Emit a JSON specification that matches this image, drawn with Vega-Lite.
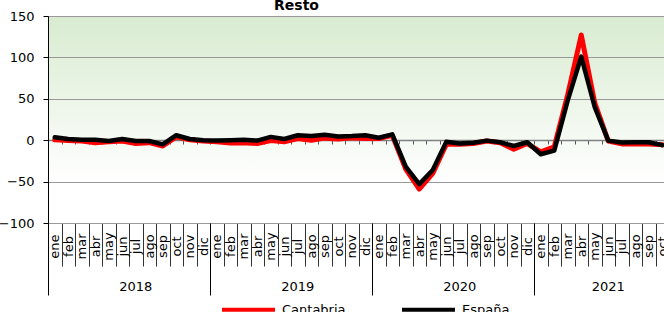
{
  "$schema": "https://vega.github.io/schema/vega-lite/v6.json",
  "width": 621,
  "height": 207,
  "autosize": {"type": "none"},
  "padding": {"left": 48, "top": 16, "right": 0, "bottom": 89},
  "background": "white",
  "config": {"font": "DejaVu Sans"},
  "view": {"stroke": null, "fill": {"gradient": "linear", "x1": 0, "y1": 0, "x2": 0, "y2": 1, "stops": [{"offset": 0, "color": "#d8ebd0"}, {"offset": 0.8, "color": "#ffffff"}, {"offset": 1, "color": "#ffffff"}]}},
  "title": {"text": "Resto", "fontSize": 14, "fontWeight": "bold", "anchor": "middle", "dx": -62, "offset": -3, "color": "#000000"},
  "data": {"values": [
    {"m": "ene 2018", "c": 0.5, "e": 3.6},
    {"m": "feb 2018", "c": -0.5, "e": 1.5},
    {"m": "mar 2018", "c": -1, "e": 0.5},
    {"m": "abr 2018", "c": -3, "e": 0.5},
    {"m": "may 2018", "c": -2, "e": -1},
    {"m": "jun 2018", "c": -1, "e": 1.5},
    {"m": "jul 2018", "c": -4, "e": -1},
    {"m": "ago 2018", "c": -3, "e": -1},
    {"m": "sep 2018", "c": -7, "e": -5},
    {"m": "oct 2018", "c": 4, "e": 6},
    {"m": "nov 2018", "c": 0.5, "e": 1.5},
    {"m": "dic 2018", "c": -1, "e": 0},
    {"m": "ene 2019", "c": -2, "e": -0.5},
    {"m": "feb 2019", "c": -3.5, "e": 0},
    {"m": "mar 2019", "c": -3, "e": 0.5},
    {"m": "abr 2019", "c": -4, "e": -0.5},
    {"m": "may 2019", "c": -0.5, "e": 4},
    {"m": "jun 2019", "c": -2, "e": 1.5},
    {"m": "jul 2019", "c": 2, "e": 6},
    {"m": "ago 2019", "c": 0, "e": 5},
    {"m": "sep 2019", "c": 2.5, "e": 6.5},
    {"m": "oct 2019", "c": 1.5, "e": 4.5},
    {"m": "nov 2019", "c": 3, "e": 5},
    {"m": "dic 2019", "c": 2, "e": 6},
    {"m": "ene 2020", "c": 2, "e": 3},
    {"m": "feb 2020", "c": 6, "e": 7},
    {"m": "mar 2020", "c": -35, "e": -32},
    {"m": "abr 2020", "c": -59, "e": -53},
    {"m": "may 2020", "c": -40, "e": -36},
    {"m": "jun 2020", "c": -5, "e": -2},
    {"m": "jul 2020", "c": -5, "e": -4},
    {"m": "ago 2020", "c": -4, "e": -3},
    {"m": "sep 2020", "c": -1, "e": -0.5},
    {"m": "oct 2020", "c": -3, "e": -2.5},
    {"m": "nov 2020", "c": -11, "e": -7},
    {"m": "dic 2020", "c": -4, "e": -2.5},
    {"m": "ene 2021", "c": -14, "e": -17},
    {"m": "feb 2021", "c": -8, "e": -12.5},
    {"m": "mar 2021", "c": 55, "e": 48},
    {"m": "abr 2021", "c": 127, "e": 101},
    {"m": "may 2021", "c": 45, "e": 40},
    {"m": "jun 2021", "c": -1, "e": -0.5},
    {"m": "jul 2021", "c": -4.5, "e": -2.9},
    {"m": "ago 2021", "c": -4.5, "e": -2.5},
    {"m": "sep 2021", "c": -4.5, "e": -2.5},
    {"m": "oct 2021", "c": -5.5, "e": -6}
  ]},
  "layer": [
    {
      "mark": {"type": "line", "strokeWidth": 5, "strokeJoin": "round", "strokeCap": "round"},
      "encoding": {
        "x": {"field": "m", "type": "ordinal", "sort": null, "scale": {"type": "band", "paddingInner": 0, "paddingOuter": 0},
          "axis": {"orient": "bottom", "title": null, "labelExpr": "datum.value ? split(datum.value,' ')[0] : ''", "labelAngle": -90, "labelAlign": "center", "labelBaseline": "middle", "labelPadding": -20, "labelFontSize": 13, "labelColor": "#000000", "tickBand": "extent", "tickSize": 43, "tickColor": "#333333", "domainColor": "#999999", "labelOverlap": false, "labelBound": false, "labelFlush": false}},
        "y": {"field": "c", "type": "quantitative", "scale": {"domain": [-100, 150], "nice": false, "zero": false},
          "axis": {"title": null, "values": [-100, -50, 0, 50, 100, 150], "grid": true, "gridColor": "#999999", "gridWidth": 1.2, "domainColor": "#000000", "tickColor": "#000000", "tickSize": 5, "labelPadding": 9, "labelFontSize": 13, "labelColor": "#000000"}},
        "color": {"datum": "Cantabria", "type": "nominal", "scale": {"domain": ["Cantabria", "España"], "range": ["#ff0000", "#000000"]},
          "legend": {"orient": "none", "legendX": 172, "legendY": 265, "direction": "horizontal", "title": null, "symbolType": "stroke", "symbolSize": 2809, "symbolStrokeWidth": 4, "labelFontSize": 13, "labelOffset": 5, "columnPadding": 48, "labelColor": "#000000"}}
      }
    },
    {
      "mark": {"type": "line", "strokeWidth": 4.5, "strokeJoin": "round", "strokeCap": "round"},
      "encoding": {
        "x": {"field": "m", "type": "ordinal", "sort": null,
          "axis": {"orient": "bottom", "title": null, "values": ["jul 2018", "jul 2019", "jul 2020", "jun 2021"], "bandPosition": 0, "labelExpr": "split(datum.value,' ')[1]", "ticks": false, "domain": false, "labelPadding": 63, "labelAngle": 0, "labelAlign": "center", "labelBaseline": "middle", "labelFontSize": 13, "labelColor": "#000000"}},
        "y": {"field": "e", "type": "quantitative", "axis": {"title": null}},
        "color": {"datum": "España", "type": "nominal"}
      }
    },
    {
      "mark": {"type": "point", "opacity": 0},
      "encoding": {
        "x": {"field": "m", "type": "ordinal", "sort": null,
          "axis": {"orient": "bottom", "title": null, "values": ["ene 2018", "ene 2019", "ene 2020", "ene 2021"], "bandPosition": 0, "labels": false, "domain": false, "tickSize": 72, "tickColor": "#000000", "tickWidth": 1}},
        "y": {"field": "e", "type": "quantitative", "axis": {"title": null}}
      }
    },
    {
      "mark": {"type": "point", "opacity": 0},
      "encoding": {
        "x": {"field": "m", "type": "ordinal", "sort": null,
          "axis": {"orient": "bottom", "title": null, "offset": -83, "labels": false, "tickBand": "extent", "tickSize": 4, "tickColor": "#555555", "domainColor": "#808080", "domainWidth": 1.5}},
        "y": {"field": "e", "type": "quantitative", "axis": {"title": null}}
      }
    }
  ],
  "resolve": {"axis": {"x": "independent"}}
}
